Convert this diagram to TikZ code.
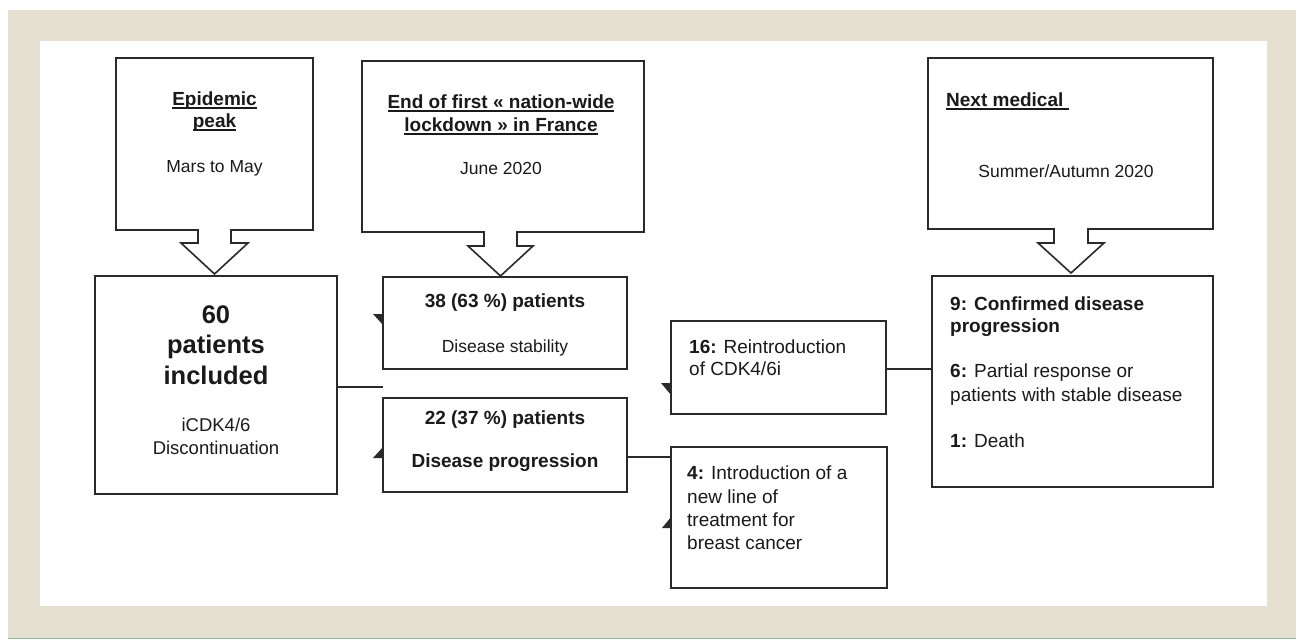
\documentclass[tikz,border=0pt]{standalone}
\usepackage{fontspec}
\setmainfont{Liberation Sans}
\usetikzlibrary{calc}
\definecolor{beige}{HTML}{E6E0D3}
\definecolor{linec}{HTML}{2A2A2A}
\definecolor{txtc}{HTML}{1A1A1A}
\definecolor{greenl}{HTML}{8CC0A0}
\newcommand\myul[1]{\setbox0\hbox{#1}\rlap{\rule[-2.8pt]{\wd0}{1.4pt}}\box0}
\newcommand\fR{\fontsize{17.5}{21}\selectfont}
\newcommand\fB{\fontsize{19}{23}\selectfont\bfseries}
\newcommand\fM{\fontsize{19}{23}\selectfont}
\newcommand\fS{\fontsize{18.5}{22}\selectfont}
\newcommand\fBig{\fontsize{25.5}{30}\selectfont\bfseries}
\begin{document}
\begin{tikzpicture}[x=1pt,y=-1pt,
  box/.style={draw=linec, line width=1.6pt, fill=white, inner sep=0pt, outer sep=0pt, anchor=north west},
  callout/.style={draw=linec, line width=1.6pt, fill=white, line join=miter},
  conn/.style={draw=linec, line width=1.6pt},
  tip/.style={fill=linec},
  tc/.style={inner sep=0pt, anchor=base, text=txtc},
  tl/.style={inner sep=0pt, anchor=base west, text=txtc}]
\useasboundingbox (0,0) rectangle (1296,639);
\fill[white] (0,0) rectangle (1296,639);
% frame
\fill[beige] (8,10) rectangle (1296,638);
\fill[white] (40,41) rectangle (1267,606);
\draw[greenl, line width=1.2pt] (8,638.4) -- (1296,638.4);

% callouts
\draw[callout] (116,58) -- (313,58) -- (313,230) -- (231,230) -- (231,243) -- (248,243)
  -- (214.5,274) -- (181,243) -- (198,243) -- (198,230) -- (116,230) -- cycle;
\draw[callout] (362,61) -- (644,61) -- (644,232) -- (517,232) -- (517,246) -- (533,246)
  -- (500.5,276) -- (468,246) -- (484,246) -- (484,232) -- (362,232) -- cycle;
\draw[callout] (928,58) -- (1213,58) -- (1213,229) -- (1088,229) -- (1088,243) -- (1104,243)
  -- (1071,273) -- (1038,243) -- (1054,243) -- (1054,229) -- (928,229) -- cycle;

\node[tc] (tA1) at (214.5,106) {\fB\myul{Epidemic}};
\node[tc] (tA2) at (214.5,128) {\fB\myul{peak}};
\node[tc] (tA3) at (214.5,173) {\fR Mars to May};

\node[tc] (tB1) at (501,109) {\fB\myul{End of first « nation-wide}};
\node[tc] (tB2) at (501,132) {\fB\myul{lockdown » in France}};
\node[tc] (tB3) at (501,175) {\fR June 2020};

\node[tl] (tC1) at (946,107) {\fB\myul{Next medical\ }};
\node[tc] (tC2) at (1066,178) {\fR Summer/Autumn 2020};

% main boxes
\node[box, minimum width=242pt, minimum height=218pt] (b60) at (95,276) {};
\node[box, minimum width=244pt, minimum height=92pt] (b38) at (383,277) {};
\node[box, minimum width=244pt, minimum height=94pt] (b22) at (383,398) {};
\node[box, minimum width=215pt, minimum height=93pt] (b16) at (671,321) {};
\node[box, minimum width=216pt, minimum height=141pt] (b4) at (671,447) {};
\node[box, minimum width=281pt, minimum height=211pt] (b9) at (932,276) {};

% connectors
\coordinate (j1) at (383,387);
\coordinate (j2) at (627,457);
\coordinate (j3) at (886,369);
\draw[conn] (b60.east |- j1) -- (j1);
\draw[conn] (j2) -- (j2 -| b4.west);
\draw[conn] (j3) -- (j3 -| b9.west);

% small arrow tips
\fill[tip] (373,314) -- (b38.west |- 0,314) -- (b38.west |- 0,325) -- cycle;
\fill[tip] (373,458) -- (b22.west |- 0,458) -- (b22.west |- 0,447) -- cycle;
\fill[tip] (661,383) -- (b16.west |- 0,383) -- (b16.west |- 0,395) -- cycle;
\fill[tip] (662,528) -- (b4.west |- 0,528) -- (b4.west |- 0,517) -- cycle;

% box texts
\node[tc] (t60a) at (216,323) {\fBig 60};
\node[tc] (t60b) at (216,353) {\fBig patients};
\node[tc] (t60c) at (216,384) {\fBig included};
\node[tc] (t60d) at (216,431) {\fS iCDK4/6};
\node[tc] (t60e) at (216,454) {\fS Discontinuation};

\node[tc] (t38a) at (505,307) {\fB 38 (63 \%) patients};
\node[tc] (t38b) at (505,352) {\fR Disease stability};

\node[tc] (t22a) at (505,424) {\fB 22 (37 \%) patients};
\node[tc] (t22b) at (505,467) {\fB Disease progression};

\node[tl] (t16a) at (689,353) {\fM\textbf{16:} Reintroduction};
\node[tl] (t16b) at (689,375) {\fM of CDK4/6i};

\node[tl] (t4a) at (687,479) {\fM\textbf{4:} Introduction of a};
\node[tl] (t4b) at (687,503) {\fM new line of};
\node[tl] (t4c) at (687,526) {\fM treatment for};
\node[tl] (t4d) at (687,549) {\fM breast cancer};

\node[tl] (t9a) at (950,310) {\fB 9: Confirmed disease};
\node[tl] (t9b) at (950,332) {\fB progression};
\node[tl] (t9c) at (950,377) {\fM\textbf{6:} Partial response or};
\node[tl] (t9d) at (950,401) {\fM patients with stable disease};
\node[tl] (t9e) at (950,447) {\fM\textbf{1:} Death};
\end{tikzpicture}
\end{document}
